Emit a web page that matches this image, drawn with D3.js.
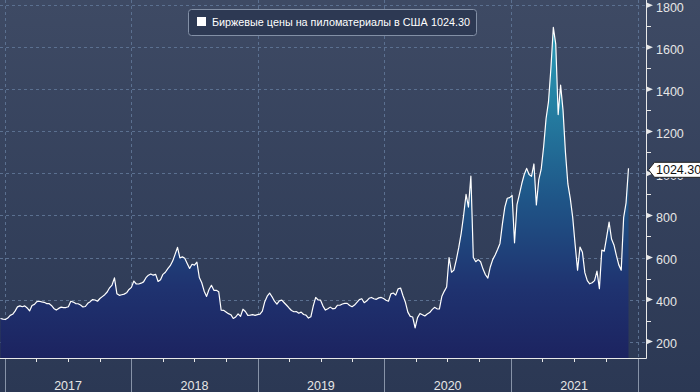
<!DOCTYPE html>
<html>
<head>
<meta charset="utf-8">
<script src="https://cdn.jsdelivr.net/npm/d3@7"></script>
<style>
body { margin: 0; background: #2d3a55; }
svg { display: block; }
text { font-family: "Liberation Sans", Arial, sans-serif; }
</style>
</head>
<body>
<div id="chart"></div>
<script>
//Size of the page and of the plot area
var w = 700;
var h = 392;
var plotRight = 646;
var plotBottom = 358;

//Weekly closes, first one on this date
var startDate = "2016-12-19";
var prices = [
    310,307,305,312,325,330,345,365,370,366,
    370,360,346,372,377,390,392,389,387,381,
    381,372,358,350,358,364,362,362,366,392,
    388,381,380,374,365,367,382,390,400,398,
    392,405,414,423,436,456,469,503,428,420,
    423,426,432,448,458,488,474,474,478,484,
    504,516,522,516,520,486,494,520,530,547,
    561,583,615,648,598,603,596,572,548,568,
    564,578,505,480,440,415,448,468,444,444,
    437,350,349,341,333,328,310,317,332,320,
    354,343,325,326,328,325,328,331,345,390,
    416,431,413,392,378,394,397,385,373,360,
    348,342,343,335,340,329,326,312,318,370,
    410,398,397,369,350,356,364,356,358,373,
    373,379,382,382,372,366,374,387,400,404,
    385,393,406,410,404,401,408,410,405,397,
    392,427,431,421,451,455,418,387,340,320,
    317,265,314,334,328,322,331,338,352,363,
    356,355,414,439,460,600,530,540,590,648,
    715,800,900,840,987,600,580,590,580,545,
    518,502,555,590,612,638,667,760,840,882,
    885,895,670,850,900,952,995,1024,995,986,
    1045,850,970,1020,1127,1260,1340,1500,1695,1615,
    1280,1420,1300,1100,950,880,790,660,540,650,
    625,528,490,475,480,490,535,452,635,630,
    698,768,688,660,610,565,540,790,860,1024.3
];

//Axis values and labels
var yTicks = [200, 400, 600, 800, 1000, 1200, 1400, 1600, 1800];
var yMinor = [300, 500, 700, 900, 1100, 1300, 1500, 1700];
var years = [2017, 2018, 2019, 2020, 2021];
var seriesName = "Биржевые цены на пиломатериалы в США";
var lastText = "1024.30";

var parse = d3.timeParse("%Y-%m-%d");
var start = parse(startDate);
var data = prices.map(function(v, i) {
    return { date: d3.timeDay.offset(start, i * 7), value: v };
});

var x = d3.scaleTime()
    .domain([new Date(2017, 0, 1), new Date(2022, 0, 1)])
    .range([5, 637.5]);

var y = d3.scaleLinear()
    .domain([122, 1825])
    .range([plotBottom, 0]);

var svg = d3.select("#chart").append("svg")
    .attr("width", w)
    .attr("height", h);

var defs = svg.append("defs");

//background gradient
var bg = defs.append("linearGradient")
    .attr("id", "bg")
    .attr("x1", 0).attr("y1", 0).attr("x2", 0).attr("y2", 1);
bg.append("stop").attr("offset", 0).attr("stop-color", "#3e4a64");
bg.append("stop").attr("offset", 1).attr("stop-color", "#2b3854");

//area gradient, tied to the y position so high values turn teal
var fillGrad = defs.append("linearGradient")
    .attr("id", "fillGrad")
    .attr("gradientUnits", "userSpaceOnUse")
    .attr("x1", 0).attr("y1", plotBottom).attr("x2", 0).attr("y2", 0);
fillGrad.append("stop").attr("offset", 0).attr("stop-color", "#1c2360");
fillGrad.append("stop").attr("offset", 0.2).attr("stop-color", "#1f3370");
fillGrad.append("stop").attr("offset", 0.45).attr("stop-color", "#1f5688");
fillGrad.append("stop").attr("offset", 0.72).attr("stop-color", "#2582a4");
fillGrad.append("stop").attr("offset", 1).attr("stop-color", "#2ba4bc");

svg.append("rect")
    .attr("width", w)
    .attr("height", h)
    .attr("fill", "url(#bg)");

//grid lines
svg.append("g")
    .selectAll("line")
    .data(yTicks)
    .enter()
    .append("line")
    .attr("x1", 0)
    .attr("x2", plotRight)
    .attr("y1", d => Math.round(y(d)) + 0.5)
    .attr("y2", d => Math.round(y(d)) + 0.5)
    .attr("stroke", "#5b7090")
    .attr("stroke-dasharray", "3,3");

var yearLines = x.ticks(d3.timeYear.every(1));
svg.append("g")
    .selectAll("line")
    .data(yearLines)
    .enter()
    .append("line")
    .attr("x1", d => Math.round(x(d)) + 0.5)
    .attr("x2", d => Math.round(x(d)) + 0.5)
    .attr("y1", 0)
    .attr("y2", plotBottom)
    .attr("stroke", "#5b7090")
    .attr("stroke-dasharray", "3,3");

//area and line
var area = d3.area()
    .x(d => x(d.date))
    .y0(plotBottom)
    .y1(d => y(d.value));

var line = d3.line()
    .x(d => x(d.date))
    .y(d => y(d.value));

svg.append("path")
    .datum(data)
    .attr("d", area)
    .attr("fill", "url(#fillGrad)");

svg.append("path")
    .datum(data)
    .attr("d", line)
    .attr("fill", "none")
    .attr("stroke", "#ffffff")
    .attr("stroke-width", 1.2)
    .attr("stroke-linejoin", "round");

//x axis band: year separators, quarter ticks and labels
svg.append("g")
    .selectAll("line")
    .data(yearLines)
    .enter()
    .append("line")
    .attr("x1", d => Math.round(x(d)) + 0.5)
    .attr("x2", d => Math.round(x(d)) + 0.5)
    .attr("y1", plotBottom)
    .attr("y2", h)
    .attr("stroke", "#8793a8");

var quarters = x.ticks(d3.timeMonth.every(3)).filter(d => d.getMonth() != 0);
svg.append("g")
    .selectAll("line")
    .data(quarters)
    .enter()
    .append("line")
    .attr("x1", d => Math.round(x(d)) + 0.5)
    .attr("x2", d => Math.round(x(d)) + 0.5)
    .attr("y1", plotBottom)
    .attr("y2", plotBottom + 4)
    .attr("stroke", "#e8e8e8");

svg.append("g")
    .selectAll("text")
    .data(years)
    .enter()
    .append("text")
    .attr("x", d => x(new Date(d, 6, 2)))
    .attr("y", 390)
    .attr("text-anchor", "middle")
    .attr("fill", "#e6e6e6")
    .style("font-size", "12.5px")
    .text(d => d);

//axis lines
svg.append("path")
    .attr("d", "M0," + (plotBottom + 0.5) + "H" + (plotRight + 0.5) + "V0")
    .attr("fill", "none")
    .attr("stroke", "#e8e8e8");

//right y axis (the 1000 label sits under the last value tag, as in the original)
var yaxis = d3.axisRight(y)
    .tickValues(yTicks)
    .tickFormat(d3.format("d"))
    .tickSize(0)
    .tickPadding(10);

var ya = svg.append("g")
    .attr("transform", "translate(" + plotRight + ",2)")
    .call(yaxis);
ya.select(".domain").remove();
ya.selectAll("text")
    .attr("fill", "#e6e6e6")
    .style("font-size", "12.5px")
    .style("font-family", "'Liberation Sans', Arial, sans-serif");

svg.append("g")
    .selectAll("path")
    .data(yTicks)
    .enter()
    .append("path")
    .attr("d", d => "M" + plotRight + "," + (y(d) - 3) + "L" + (plotRight + 7) + "," + y(d) + "L" + plotRight + "," + (y(d) + 3) + "Z")
    .attr("fill", "#e8e8e8");

svg.append("g")
    .selectAll("line")
    .data(yMinor)
    .enter()
    .append("line")
    .attr("x1", plotRight)
    .attr("x2", plotRight + 5)
    .attr("y1", d => Math.round(y(d)) + 0.5)
    .attr("y2", d => Math.round(y(d)) + 0.5)
    .attr("stroke", "#e8e8e8");

//last value tag on the axis
var last = data[data.length - 1];
var ly = y(last.value) + 1.5;
svg.append("path")
    .attr("d", "M" + (plotRight + 2.5) + "," + ly + "L" + (plotRight + 8.5) + "," + (ly - 7.5) + "H" + (w + 2) + "V" + (ly + 7.5) + "H" + (plotRight + 8.5) + "Z")
    .attr("fill", "#ffffff")
    .attr("stroke", "#222222");

svg.append("text")
    .attr("x", plotRight + 10)
    .attr("y", ly + 4.5)
    .attr("fill", "#111111")
    .style("font-size", "12.5px")
    .text(lastText);

//legend
var lg = svg.append("g");
lg.append("rect")
    .attr("x", 188.5)
    .attr("y", 9.5)
    .attr("width", 288)
    .attr("height", 26)
    .attr("rx", 3)
    .attr("fill", "#2d3953")
    .attr("stroke", "#8390a6");
lg.append("rect")
    .attr("x", 197)
    .attr("y", 17)
    .attr("width", 9)
    .attr("height", 9)
    .attr("fill", "#ffffff");
lg.append("text")
    .attr("x", 212)
    .attr("y", 26)
    .attr("fill", "#ffffff")
    .style("font-size", "10.8px")
    .text(seriesName);
lg.append("text")
    .attr("x", 470)
    .attr("y", 26)
    .attr("text-anchor", "end")
    .attr("fill", "#ffffff")
    .style("font-size", "10.8px")
    .text(lastText);
</script>
</body>
</html>
